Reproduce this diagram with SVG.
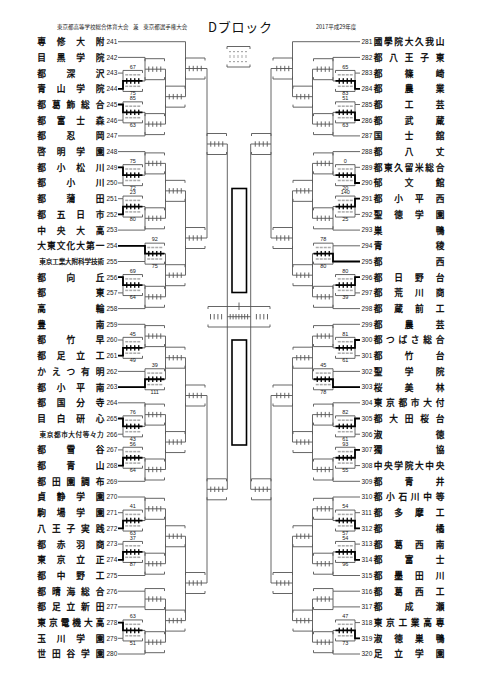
<svg xmlns="http://www.w3.org/2000/svg" width="481" height="680" viewBox="0 0 481 680">
<style>
.n{font-family:"Noto Sans CJK JP","Noto Sans CJK SC",sans-serif;font-size:8.7px;font-weight:400;text-anchor:middle;fill:#000;stroke:#000;stroke-width:0.3}
.ns{font-size:6.6px;stroke-width:0.2}
.no{font-family:"Liberation Sans",Arial,sans-serif;font-size:6.5px;fill:#222}
.s{font-family:"Liberation Sans",Arial,sans-serif;font-size:5.5px;text-anchor:middle;fill:#222}
.h{font-family:"Noto Sans CJK JP",sans-serif;font-size:5.5px;fill:#222}
.ln{fill:none;stroke:#555;stroke-width:0.9}
.bd{fill:none;stroke:#000;stroke-width:1.8}
.bt{fill:none;stroke:#000;stroke-width:1.1}
.q{fill:#aaa}
</style>
<defs>
<g id="bx"><path class="ln" d="M0 -8V-10.5H19.5V-8M0 8V10.5H19.5V8M3.75 -2.7V2.7M7.75 -2.7V2.7M11.75 -2.7V2.7M15.75 -2.7V2.7"/></g>
<g id="bk"><path class="bt" d="M3.75 -2.7V2.7M7.75 -2.7V2.7M11.75 -2.7V2.7M15.75 -2.7V2.7"/></g>
<g id="qr" class="q"><rect x="2.25" y="-6.9" width="3" height="1.5"/><rect x="6.25" y="-6.9" width="3" height="1.5"/><rect x="10.25" y="-6.9" width="3" height="1.5"/><rect x="14.25" y="-6.9" width="3" height="1.5"/><rect x="2.25" y="4.6" width="3" height="1.5"/><rect x="6.25" y="4.6" width="3" height="1.5"/><rect x="10.25" y="4.6" width="3" height="1.5"/><rect x="14.25" y="4.6" width="3" height="1.5"/></g>
</defs>
<rect width="481" height="680" fill="#fff"/>
<g id="header">
<text class="h" x="57" y="28.5">東京都高等学校総合体育大会</text>
<text class="h" x="133" y="28.5">兼</text>
<text class="h" x="143.3" y="28.5">東京都選手権大会</text>
<text x="208" y="32" font-family="Noto Sans CJK JP,sans-serif" font-size="13" textLength="64" lengthAdjust="spacing" fill="#111">Dブロック</text>
<text class="h" x="316" y="28.5">2017平成29年度</text>
</g>
<g id="legend">
<path class="ln" d="M227 49V46.5H250V49M227 64.5V67H250V64.5"/>
<g class="q"><rect x="229" y="51" width="2" height="1.2"/><rect x="233" y="51" width="2" height="1.2"/><rect x="237" y="51" width="2" height="1.2"/><rect x="241" y="51" width="2" height="1.2"/><rect x="245" y="51" width="2" height="1.2"/><rect x="229.5" y="55" width="1" height="3"/><rect x="233.5" y="55" width="1" height="3"/><rect x="237.5" y="55" width="1" height="3"/><rect x="241.5" y="55" width="1" height="3"/><rect x="245.5" y="55" width="1" height="3"/><rect x="229" y="61" width="2" height="1.2"/><rect x="233" y="61" width="2" height="1.2"/><rect x="237" y="61" width="2" height="1.2"/><rect x="241" y="61" width="2" height="1.2"/><rect x="245" y="61" width="2" height="1.2"/></g>
</g>
<g id="connectors">
<path class="ln" d="M118 41.7H185.5M118 73.1H123M118 88.8H123M118 104.5H123M118 120.2H123M118 167.3H123M118 183H123M118 198.7H123M118 214.4H123M118 277.2H123M118 292.9H123M118 340H123M118 355.7H123M118 418.5H123M118 434.2H123M118 449.9H123M118 465.6H123M118 512.7H123M118 528.4H123M118 544.1H123M118 559.8H123M118 622.6H123M118 638.3H123M118 57.4H145M118 135.9H145M118 151.6H145M118 230.1H145M118 245.8H145M118 261.5H145M118 308.6H145M118 324.3H145M118 371.4H145M118 387.1H145M118 402.8H145M118 481.3H145M118 497H145M118 575.5H145M118 591.2H145M118 606.9H145M118 654H145"/>
<path class="ln" d="M360 41.7H292.5M360 73.1H355M360 88.8H355M360 104.5H355M360 120.2H355M360 167.3H355M360 183H355M360 198.7H355M360 214.4H355M360 277.2H355M360 292.9H355M360 340H355M360 355.7H355M360 418.5H355M360 434.2H355M360 449.9H355M360 465.6H355M360 512.7H355M360 528.4H355M360 544.1H355M360 559.8H355M360 622.6H355M360 638.3H355M360 57.4H333M360 135.9H333M360 151.6H333M360 230.1H333M360 245.8H333M360 261.5H333M360 308.6H333M360 324.3H333M360 371.4H333M360 387.1H333M360 402.8H333M360 481.3H333M360 497H333M360 575.5H333M360 591.2H333M360 606.9H333M360 654H333"/>
<path class="ln" d="M123 73.1V88.8M123 80.95H145M123 104.5V120.2M123 112.35H145M123 167.3V183M123 175.15H145M123 198.7V214.4M123 206.55H145M123 277.2V292.9M123 285.05H145M123 340V355.7M123 347.85H145M123 418.5V434.2M123 426.35H145M123 449.9V465.6M123 457.75H145M123 512.7V528.4M123 520.55H145M123 544.1V559.8M123 551.95H145M123 622.6V638.3M123 630.45H145"/>
<path class="ln" d="M145 57.4V80.95M145 69.2H165.5M145 112.35V135.9M145 124.1H165.5M145 151.6V175.15M145 163.4H165.5M145 206.55V230.1M145 218.3H165.5M145 245.8V261.5M145 253.65H165.5M145 285.05V308.6M145 296.8H165.5M145 324.3V347.85M145 336.1H165.5M145 371.4V387.1M145 379.25H165.5M145 402.8V426.35M145 414.6H165.5M145 457.75V481.3M145 469.5H165.5M145 497V520.55M145 508.8H165.5M145 551.95V575.5M145 563.7H165.5M145 591.2V606.9M145 599.05H165.5M145 630.45V654M145 642.2H165.5"/>
<path class="ln" d="M165.5 69.2V124.1M165.5 96.65H185.5M165.5 163.4V218.3M165.5 190.85H185.5M165.5 253.65V296.8M165.5 275.2H185.5M165.5 336.1V379.25M165.5 357.7H185.5M165.5 414.6V469.5M165.5 442.05H185.5M165.5 508.8V563.7M165.5 536.25H185.5M165.5 599.05V642.2M165.5 620.6H185.5"/>
<path class="ln" d="M185.5 41.7V96.65M185.5 68.5H207M185.5 190.85V275.2M185.5 238H207M185.5 357.7V442.05M185.5 395.5H207M185.5 536.25V620.6M185.5 583H207M207 68.5V238M207 144H227.3M207 395.5V583M207 489.3H227.3M227.3 144V489.3"/>
<path class="ln" d="M355 73.1V88.8M355 80.95H333M355 104.5V120.2M355 112.35H333M355 167.3V183M355 175.15H333M355 198.7V214.4M355 206.55H333M355 277.2V292.9M355 285.05H333M355 340V355.7M355 347.85H333M355 418.5V434.2M355 426.35H333M355 449.9V465.6M355 457.75H333M355 512.7V528.4M355 520.55H333M355 544.1V559.8M355 551.95H333M355 622.6V638.3M355 630.45H333"/>
<path class="ln" d="M333 57.4V80.95M333 69.2H312.5M333 112.35V135.9M333 124.1H312.5M333 151.6V175.15M333 163.4H312.5M333 206.55V230.1M333 218.3H312.5M333 245.8V261.5M333 253.65H312.5M333 285.05V308.6M333 296.8H312.5M333 324.3V347.85M333 336.1H312.5M333 371.4V387.1M333 379.25H312.5M333 402.8V426.35M333 414.6H312.5M333 457.75V481.3M333 469.5H312.5M333 497V520.55M333 508.8H312.5M333 551.95V575.5M333 563.7H312.5M333 591.2V606.9M333 599.05H312.5M333 630.45V654M333 642.2H312.5"/>
<path class="ln" d="M312.5 69.2V124.1M312.5 96.65H292.5M312.5 163.4V218.3M312.5 190.85H292.5M312.5 253.65V296.8M312.5 275.2H292.5M312.5 336.1V379.25M312.5 357.7H292.5M312.5 414.6V469.5M312.5 442.05H292.5M312.5 508.8V563.7M312.5 536.25H292.5M312.5 599.05V642.2M312.5 620.6H292.5"/>
<path class="ln" d="M292.5 41.7V96.65M292.5 68.5H271M292.5 190.85V275.2M292.5 238H271M292.5 357.7V442.05M292.5 395.5H271M292.5 536.25V620.6M292.5 583H271M271 68.5V238M271 144H250.7M271 395.5V583M271 489.3H250.7M250.7 144V489.3"/>
<g id="boxes">
<use href="#bx" x="123" y="80.95"/><use href="#bx" x="123" y="112.35"/><use href="#bx" x="123" y="175.15"/><use href="#bx" x="123" y="206.55"/><use href="#bx" x="123" y="285.05"/><use href="#bx" x="123" y="347.85"/><use href="#bx" x="123" y="426.35"/><use href="#bx" x="123" y="457.75"/><use href="#bx" x="123" y="520.55"/><use href="#bx" x="123" y="551.95"/><use href="#bx" x="123" y="630.45"/>
<use href="#bx" x="145" y="69.2"/><use href="#bx" x="145" y="124.1"/><use href="#bx" x="145" y="163.4"/><use href="#bx" x="145" y="218.3"/><use href="#bx" x="145" y="253.65"/><use href="#bx" x="145" y="296.8"/><use href="#bx" x="145" y="336.1"/><use href="#bx" x="145" y="379.25"/><use href="#bx" x="145" y="414.6"/><use href="#bx" x="145" y="469.5"/><use href="#bx" x="145" y="508.8"/><use href="#bx" x="145" y="563.7"/><use href="#bx" x="145" y="599.05"/><use href="#bx" x="145" y="642.2"/>
<use href="#bx" x="165.5" y="96.65"/><use href="#bx" x="165.5" y="190.85"/><use href="#bx" x="165.5" y="275.2"/><use href="#bx" x="165.5" y="357.7"/><use href="#bx" x="165.5" y="442.05"/><use href="#bx" x="165.5" y="536.25"/><use href="#bx" x="165.5" y="620.6"/>
<use href="#bx" x="185.5" y="68.5"/><use href="#bx" x="185.5" y="238"/><use href="#bx" x="185.5" y="395.5"/><use href="#bx" x="185.5" y="583"/>
<use href="#bx" x="207" y="144"/><use href="#bx" x="207" y="489.3"/>
<use href="#bx" x="335.5" y="80.95"/><use href="#bx" x="335.5" y="112.35"/><use href="#bx" x="335.5" y="175.15"/><use href="#bx" x="335.5" y="206.55"/><use href="#bx" x="335.5" y="285.05"/><use href="#bx" x="335.5" y="347.85"/><use href="#bx" x="335.5" y="426.35"/><use href="#bx" x="335.5" y="457.75"/><use href="#bx" x="335.5" y="520.55"/><use href="#bx" x="335.5" y="551.95"/><use href="#bx" x="335.5" y="630.45"/>
<use href="#bx" x="313.5" y="69.2"/><use href="#bx" x="313.5" y="124.1"/><use href="#bx" x="313.5" y="163.4"/><use href="#bx" x="313.5" y="218.3"/><use href="#bx" x="313.5" y="253.65"/><use href="#bx" x="313.5" y="296.8"/><use href="#bx" x="313.5" y="336.1"/><use href="#bx" x="313.5" y="379.25"/><use href="#bx" x="313.5" y="414.6"/><use href="#bx" x="313.5" y="469.5"/><use href="#bx" x="313.5" y="508.8"/><use href="#bx" x="313.5" y="563.7"/><use href="#bx" x="313.5" y="599.05"/><use href="#bx" x="313.5" y="642.2"/>
<use href="#bx" x="293" y="96.65"/><use href="#bx" x="293" y="190.85"/><use href="#bx" x="293" y="275.2"/><use href="#bx" x="293" y="357.7"/><use href="#bx" x="293" y="442.05"/><use href="#bx" x="293" y="536.25"/><use href="#bx" x="293" y="620.6"/>
<use href="#bx" x="273" y="68.5"/><use href="#bx" x="273" y="238"/><use href="#bx" x="273" y="395.5"/><use href="#bx" x="273" y="583"/>
<use href="#bx" x="251.5" y="144"/><use href="#bx" x="251.5" y="489.3"/>
</g>
<g id="quarters">
<use href="#qr" x="123" y="80.95"/><use href="#qr" x="123" y="112.35"/><use href="#qr" x="123" y="175.15"/><use href="#qr" x="123" y="206.55"/><use href="#qr" x="123" y="285.05"/><use href="#qr" x="123" y="347.85"/><use href="#qr" x="123" y="426.35"/><use href="#qr" x="123" y="457.75"/><use href="#qr" x="123" y="520.55"/><use href="#qr" x="123" y="551.95"/><use href="#qr" x="123" y="630.45"/><use href="#qr" x="145" y="253.65"/><use href="#qr" x="145" y="379.25"/>
<use href="#qr" x="335.5" y="80.95"/><use href="#qr" x="335.5" y="112.35"/><use href="#qr" x="335.5" y="175.15"/><use href="#qr" x="335.5" y="206.55"/><use href="#qr" x="335.5" y="285.05"/><use href="#qr" x="335.5" y="347.85"/><use href="#qr" x="335.5" y="426.35"/><use href="#qr" x="335.5" y="457.75"/><use href="#qr" x="335.5" y="520.55"/><use href="#qr" x="335.5" y="551.95"/><use href="#qr" x="335.5" y="630.45"/><use href="#qr" x="313.5" y="253.65"/><use href="#qr" x="313.5" y="379.25"/>
</g>
<g id="winners">
<path class="bd" d="M118 88.8H123V80.95H142.5M118 104.5H123V112.35H142.5M118 167.3H123V175.15H142.5M118 214.4H123V206.55H142.5M118 277.2H123V285.05H142.5M118 355.7H123V347.85H142.5M118 418.5H123V426.35H142.5M118 465.6H123V457.75H142.5M118 528.4H123V520.55H142.5M118 559.8H123V551.95H142.5M118 622.6H123V630.45H142.5M118 245.8H145V253.65H164.5M118 387.1H145V379.25H164.5"/>
<path class="bd" d="M360 88.8H355V80.95H335.5M360 120.2H355V112.35H335.5M360 183H355V175.15H335.5M360 198.7H355V206.55H335.5M360 277.2H355V285.05H335.5M360 340H355V347.85H335.5M360 418.5H355V426.35H335.5M360 449.9H355V457.75H335.5M360 528.4H355V520.55H335.5M360 559.8H355V551.95H335.5M360 638.3H355V630.45H335.5M360 261.5H333V253.65H313.5M360 387.1H333V379.25H313.5"/>
<use href="#bk" x="123" y="80.95"/><use href="#bk" x="123" y="112.35"/><use href="#bk" x="123" y="175.15"/><use href="#bk" x="123" y="206.55"/><use href="#bk" x="123" y="285.05"/><use href="#bk" x="123" y="347.85"/><use href="#bk" x="123" y="426.35"/><use href="#bk" x="123" y="457.75"/><use href="#bk" x="123" y="520.55"/><use href="#bk" x="123" y="551.95"/><use href="#bk" x="123" y="630.45"/><use href="#bk" x="145" y="253.65"/><use href="#bk" x="145" y="379.25"/>
<use href="#bk" x="335.5" y="80.95"/><use href="#bk" x="335.5" y="112.35"/><use href="#bk" x="335.5" y="175.15"/><use href="#bk" x="335.5" y="206.55"/><use href="#bk" x="335.5" y="285.05"/><use href="#bk" x="335.5" y="347.85"/><use href="#bk" x="335.5" y="426.35"/><use href="#bk" x="335.5" y="457.75"/><use href="#bk" x="335.5" y="520.55"/><use href="#bk" x="335.5" y="551.95"/><use href="#bk" x="335.5" y="630.45"/><use href="#bk" x="313.5" y="253.65"/><use href="#bk" x="313.5" y="379.25"/>
</g>
</g>
<g id="final">
<path class="ln" d="M208 309V306.5H270V309M208 324.5V327H270V324.5M210.5 314V319.4M214.2 314V319.4M217.9 314V319.4M221.6 314V319.4M227.3 316.7H250.7M230.2 314V319.4M233.1 314V319.4M236 314V319.4M238.9 314V319.4M241.8 314V319.4M244.7 314V319.4M247.6 314V319.4M256.4 314V319.4M260.1 314V319.4M263.8 314V319.4M267.5 314V319.4M239 302.5V310"/>
<rect x="232" y="188.5" width="14.5" height="104" fill="none" stroke="#000" stroke-width="1.6"/>
<rect x="232" y="340" width="14.5" height="105" fill="none" stroke="#000" stroke-width="1.6"/>
</g>
<g id="scores">
<text class="s" x="132.75" y="68.75">67</text><text class="s" x="132.75" y="95.35">75</text>
<text class="s" x="132.75" y="100.15">85</text><text class="s" x="132.75" y="126.75">63</text>
<text class="s" x="132.75" y="162.95">75</text><text class="s" x="132.75" y="189.55">72</text>
<text class="s" x="132.75" y="194.35">23</text><text class="s" x="132.75" y="220.95">80</text>
<text class="s" x="154.75" y="241.45">92</text><text class="s" x="154.75" y="268.05">75</text>
<text class="s" x="132.75" y="272.85">69</text><text class="s" x="132.75" y="299.45">64</text>
<text class="s" x="132.75" y="335.65">45</text><text class="s" x="132.75" y="362.25">49</text>
<text class="s" x="154.75" y="367.05">39</text><text class="s" x="154.75" y="393.65">111</text>
<text class="s" x="132.75" y="414.15">76</text><text class="s" x="132.75" y="440.75">43</text>
<text class="s" x="132.75" y="445.55">56</text><text class="s" x="132.75" y="472.15">64</text>
<text class="s" x="132.75" y="508.35">41</text><text class="s" x="132.75" y="534.95">63</text>
<text class="s" x="132.75" y="539.75">37</text><text class="s" x="132.75" y="566.35">87</text>
<text class="s" x="132.75" y="618.25">63</text><text class="s" x="132.75" y="644.85">51</text>
<text class="s" x="345.25" y="68.75">65</text><text class="s" x="345.25" y="95.35">83</text>
<text class="s" x="345.25" y="100.15">51</text><text class="s" x="345.25" y="126.75">63</text>
<text class="s" x="345.25" y="162.95">0</text><text class="s" x="345.25" y="189.55">20</text>
<text class="s" x="345.25" y="194.35">140</text><text class="s" x="345.25" y="220.95">25</text>
<text class="s" x="323.25" y="241.45">78</text><text class="s" x="323.25" y="268.05">80</text>
<text class="s" x="345.25" y="272.85">80</text><text class="s" x="345.25" y="299.45">39</text>
<text class="s" x="345.25" y="335.65">81</text><text class="s" x="345.25" y="362.25">61</text>
<text class="s" x="323.25" y="367.05">45</text><text class="s" x="323.25" y="393.65">78</text>
<text class="s" x="345.25" y="414.15">82</text><text class="s" x="345.25" y="440.75">61</text>
<text class="s" x="345.25" y="445.55">93</text><text class="s" x="345.25" y="472.15">55</text>
<text class="s" x="345.25" y="508.35">54</text><text class="s" x="345.25" y="534.95">57</text>
<text class="s" x="345.25" y="539.75">54</text><text class="s" x="345.25" y="566.35">96</text>
<text class="s" x="345.25" y="618.25">47</text><text class="s" x="345.25" y="644.85">73</text>
</g>
<g id="teams-left">
<g id="t241"><text class="n" x="41.7 61.13 80.57 100" y="45.1">専修大附</text><text class="no" x="106.5" y="44">241</text></g>
<g id="t242"><text class="n" x="41.7 61.13 80.57 100" y="60.8">目黒学院</text><text class="no" x="106.5" y="59.7">242</text></g>
<g id="t243"><text class="n" x="41.7 70.85 100" y="76.5">都深沢</text><text class="no" x="106.5" y="75.4">243</text></g>
<g id="t244"><text class="n" x="41.7 61.13 80.57 100" y="92.2">青山学院</text><text class="no" x="106.5" y="91.1">244</text></g>
<g id="t245"><text class="n" x="41.7 56.28 70.85 85.43 100" y="107.9">都葛飾総合</text><text class="no" x="106.5" y="106.8">245</text></g>
<g id="t246"><text class="n" x="41.7 61.13 80.57 100" y="123.6">都富士森</text><text class="no" x="106.5" y="122.5">246</text></g>
<g id="t247"><text class="n" x="41.7 70.85 100" y="139.3">都忍岡</text><text class="no" x="106.5" y="138.2">247</text></g>
<g id="t248"><text class="n" x="41.7 61.13 80.57 100" y="155">啓明学園</text><text class="no" x="106.5" y="153.9">248</text></g>
<g id="t249"><text class="n" x="41.7 61.13 80.57 100" y="170.7">都小松川</text><text class="no" x="106.5" y="169.6">249</text></g>
<g id="t250"><text class="n" x="41.7 70.85 100" y="186.4">都小川</text><text class="no" x="106.5" y="185.3">250</text></g>
<g id="t251"><text class="n" x="41.7 70.85 100" y="202.1">都蒲田</text><text class="no" x="106.5" y="201">251</text></g>
<g id="t252"><text class="n" x="41.7 61.13 80.57 100" y="217.8">都五日市</text><text class="no" x="106.5" y="216.7">252</text></g>
<g id="t253"><text class="n" x="41.7 61.13 80.57 100" y="233.5">中央大高</text><text class="no" x="106.5" y="232.4">253</text></g>
<g id="t254"><text class="n" x="41.7 51.42 61.13 70.85 80.57 90.28 100" y="249.2">大東文化大第一</text><text class="no" x="106.5" y="248.1">254</text></g>
<g id="t255"><text class="n ns" x="42.6 49.06 55.51 61.97 68.42 74.88 81.34 87.79 94.25 100.7" y="264">東京工業大附科学技術</text><text class="no" x="106.5" y="263.8">255</text></g>
<g id="t256"><text class="n" x="41.7 70.85 100" y="280.6">都向丘</text><text class="no" x="106.5" y="279.5">256</text></g>
<g id="t257"><text class="n" x="41.7 100" y="296.3">都東</text><text class="no" x="106.5" y="295.2">257</text></g>
<g id="t258"><text class="n" x="41.7 100" y="312">高輪</text><text class="no" x="106.5" y="310.9">258</text></g>
<g id="t259"><text class="n" x="41.7 100" y="327.7">豊南</text><text class="no" x="106.5" y="326.6">259</text></g>
<g id="t260"><text class="n" x="41.7 70.85 100" y="343.4">都竹早</text><text class="no" x="106.5" y="342.3">260</text></g>
<g id="t261"><text class="n" x="41.7 61.13 80.57 100" y="359.1">都足立工</text><text class="no" x="106.5" y="358">261</text></g>
<g id="t262"><text class="n" x="41.7 56.28 70.85 85.43 100" y="374.8">かえつ有明</text><text class="no" x="106.5" y="373.7">262</text></g>
<g id="t263"><text class="n" x="41.7 61.13 80.57 100" y="390.5">都小平南</text><text class="no" x="106.5" y="389.4">263</text></g>
<g id="t264"><text class="n" x="41.7 61.13 80.57 100" y="406.2">都国分寺</text><text class="no" x="106.5" y="405.1">264</text></g>
<g id="t265"><text class="n" x="41.7 61.13 80.57 100" y="421.9">目白研心</text><text class="no" x="106.5" y="420.8">265</text></g>
<g id="t266"><text class="n ns" x="42.9 50.09 57.28 64.46 71.65 78.84 86.03 93.21 100.4" y="436.7">東京都市大付等々力</text><text class="no" x="106.5" y="436.5">266</text></g>
<g id="t267"><text class="n" x="41.7 70.85 100" y="453.3">都雪谷</text><text class="no" x="106.5" y="452.2">267</text></g>
<g id="t268"><text class="n" x="41.7 70.85 100" y="469">都青山</text><text class="no" x="106.5" y="467.9">268</text></g>
<g id="t269"><text class="n" x="41.7 56.28 70.85 85.43 100" y="484.7">都田園調布</text><text class="no" x="106.5" y="483.6">269</text></g>
<g id="t270"><text class="n" x="41.7 61.13 80.57 100" y="500.4">貞静学園</text><text class="no" x="106.5" y="499.3">270</text></g>
<g id="t271"><text class="n" x="41.7 61.13 80.57 100" y="516.1">駒場学園</text><text class="no" x="106.5" y="515">271</text></g>
<g id="t272"><text class="n" x="41.7 56.28 70.85 85.43 100" y="531.8">八王子実践</text><text class="no" x="106.5" y="530.7">272</text></g>
<g id="t273"><text class="n" x="41.7 61.13 80.57 100" y="547.5">都赤羽商</text><text class="no" x="106.5" y="546.4">273</text></g>
<g id="t274"><text class="n" x="41.7 61.13 80.57 100" y="563.2">東京立正</text><text class="no" x="106.5" y="562.1">274</text></g>
<g id="t275"><text class="n" x="41.7 61.13 80.57 100" y="578.9">都中野工</text><text class="no" x="106.5" y="577.8">275</text></g>
<g id="t276"><text class="n" x="41.7 56.28 70.85 85.43 100" y="594.6">都晴海総合</text><text class="no" x="106.5" y="593.5">276</text></g>
<g id="t277"><text class="n" x="41.7 56.28 70.85 85.43 100" y="610.3">都足立新田</text><text class="no" x="106.5" y="609.2">277</text></g>
<g id="t278"><text class="n" x="41.7 53.36 65.02 76.68 88.34 100" y="626">東京電機大高</text><text class="no" x="106.5" y="624.9">278</text></g>
<g id="t279"><text class="n" x="41.7 61.13 80.57 100" y="641.7">玉川学園</text><text class="no" x="106.5" y="640.6">279</text></g>
<g id="t280"><text class="n" x="41.7 56.28 70.85 85.43 100" y="657.4">世田谷学園</text><text class="no" x="106.5" y="656.3">280</text></g>
</g>
<g id="teams-right">
<g id="t281"><text class="n" x="378 388.33 398.67 409 419.33 429.67 440" y="45.1">國學院大久我山</text><text class="no" x="361.5" y="44">281</text></g>
<g id="t282"><text class="n" x="378 393.5 409 424.5 440" y="60.8">都八王子東</text><text class="no" x="361.5" y="59.7">282</text></g>
<g id="t283"><text class="n" x="378 409 440" y="76.5">都篠崎</text><text class="no" x="361.5" y="75.4">283</text></g>
<g id="t284"><text class="n" x="378 409 440" y="92.2">都農業</text><text class="no" x="361.5" y="91.1">284</text></g>
<g id="t285"><text class="n" x="378 409 440" y="107.9">都工芸</text><text class="no" x="361.5" y="106.8">285</text></g>
<g id="t286"><text class="n" x="378 409 440" y="123.6">都武蔵</text><text class="no" x="361.5" y="122.5">286</text></g>
<g id="t287"><text class="n" x="378 409 440" y="139.3">国士舘</text><text class="no" x="361.5" y="138.2">287</text></g>
<g id="t288"><text class="n" x="378 409 440" y="155">都八丈</text><text class="no" x="361.5" y="153.9">288</text></g>
<g id="t289"><text class="n" x="378 388.33 398.67 409 419.33 429.67 440" y="170.7">都東久留米総合</text><text class="no" x="361.5" y="169.6">289</text></g>
<g id="t290"><text class="n" x="378 409 440" y="186.4">郁文館</text><text class="no" x="361.5" y="185.3">290</text></g>
<g id="t291"><text class="n" x="378 398.67 419.33 440" y="202.1">都小平西</text><text class="no" x="361.5" y="201">291</text></g>
<g id="t292"><text class="n" x="378 398.67 419.33 440" y="217.8">聖徳学園</text><text class="no" x="361.5" y="216.7">292</text></g>
<g id="t293"><text class="n" x="378 440" y="233.5">巣鴨</text><text class="no" x="361.5" y="232.4">293</text></g>
<g id="t294"><text class="n" x="378 440" y="249.2">青稜</text><text class="no" x="361.5" y="248.1">294</text></g>
<g id="t295"><text class="n" x="378 440" y="264.9">都西</text><text class="no" x="361.5" y="263.8">295</text></g>
<g id="t296"><text class="n" x="378 398.67 419.33 440" y="280.6">都日野台</text><text class="no" x="361.5" y="279.5">296</text></g>
<g id="t297"><text class="n" x="378 398.67 419.33 440" y="296.3">都荒川商</text><text class="no" x="361.5" y="295.2">297</text></g>
<g id="t298"><text class="n" x="378 398.67 419.33 440" y="312">都蔵前工</text><text class="no" x="361.5" y="310.9">298</text></g>
<g id="t299"><text class="n" x="378 409 440" y="327.7">都農芸</text><text class="no" x="361.5" y="326.6">299</text></g>
<g id="t300"><text class="n" x="378 390.4 402.8 415.2 427.6 440" y="343.4">都つばさ総合</text><text class="no" x="361.5" y="342.3">300</text></g>
<g id="t301"><text class="n" x="378 409 440" y="359.1">都竹台</text><text class="no" x="361.5" y="358">301</text></g>
<g id="t302"><text class="n" x="378 409 440" y="374.8">聖学院</text><text class="no" x="361.5" y="373.7">302</text></g>
<g id="t303"><text class="n" x="378 409 440" y="390.5">桜美林</text><text class="no" x="361.5" y="389.4">303</text></g>
<g id="t304"><text class="n" x="378 390.4 402.8 415.2 427.6 440" y="406.2">東京都市大付</text><text class="no" x="361.5" y="405.1">304</text></g>
<g id="t305"><text class="n" x="378 393.5 409 424.5 440" y="421.9">都大田桜台</text><text class="no" x="361.5" y="420.8">305</text></g>
<g id="t306"><text class="n" x="378 440" y="437.6">淑徳</text><text class="no" x="361.5" y="436.5">306</text></g>
<g id="t307"><text class="n" x="378 440" y="453.3">獨協</text><text class="no" x="361.5" y="452.2">307</text></g>
<g id="t308"><text class="n" x="378 388.33 398.67 409 419.33 429.67 440" y="469">中央学院大中央</text><text class="no" x="361.5" y="467.9">308</text></g>
<g id="t309"><text class="n" x="378 409 440" y="484.7">都青井</text><text class="no" x="361.5" y="483.6">309</text></g>
<g id="t310"><text class="n" x="378 390.4 402.8 415.2 427.6 440" y="500.4">都小石川中等</text><text class="no" x="361.5" y="499.3">310</text></g>
<g id="t311"><text class="n" x="378 398.67 419.33 440" y="516.1">都多摩工</text><text class="no" x="361.5" y="515">311</text></g>
<g id="t312"><text class="n" x="378 440" y="531.8">都橘</text><text class="no" x="361.5" y="530.7">312</text></g>
<g id="t313"><text class="n" x="378 398.67 419.33 440" y="547.5">都葛西南</text><text class="no" x="361.5" y="546.4">313</text></g>
<g id="t314"><text class="n" x="378 409 440" y="563.2">都富士</text><text class="no" x="361.5" y="562.1">314</text></g>
<g id="t315"><text class="n" x="378 398.67 419.33 440" y="578.9">都墨田川</text><text class="no" x="361.5" y="577.8">315</text></g>
<g id="t316"><text class="n" x="378 398.67 419.33 440" y="594.6">都葛西工</text><text class="no" x="361.5" y="593.5">316</text></g>
<g id="t317"><text class="n" x="378 409 440" y="610.3">都成瀬</text><text class="no" x="361.5" y="609.2">317</text></g>
<g id="t318"><text class="n" x="378 390.4 402.8 415.2 427.6 440" y="626">東京工業高専</text><text class="no" x="361.5" y="624.9">318</text></g>
<g id="t319"><text class="n" x="378 398.67 419.33 440" y="641.7">淑徳巣鴨</text><text class="no" x="361.5" y="640.6">319</text></g>
<g id="t320"><text class="n" x="378 398.67 419.33 440" y="657.4">足立学園</text><text class="no" x="361.5" y="656.3">320</text></g>
</g>
</svg>
